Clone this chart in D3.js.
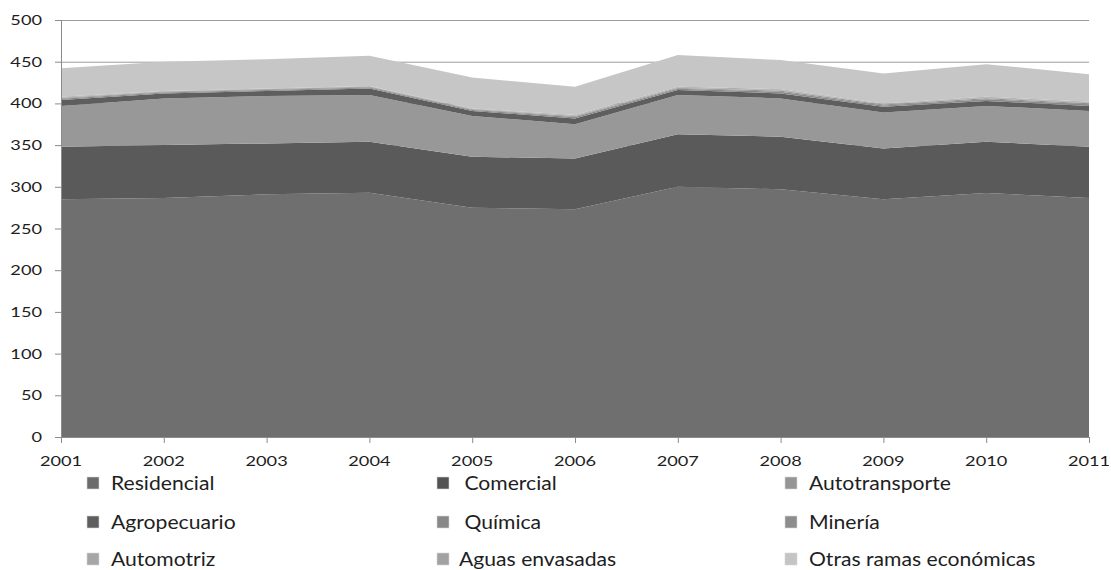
<!DOCTYPE html>
<html>
<head>
<meta charset="utf-8">
<script src="https://cdn.jsdelivr.net/npm/d3@7"></script>
<style>
  body { margin: 0; background: #fff; }
  svg { display: block; }
  text { font-family: Lato, "Open Sans", sans-serif; fill: #1e1e1e; white-space: pre; }
</style>
</head>
<body>
<svg id="chart" width="1111" height="570"></svg>
<script>
// Years on the horizontal axis
const years = [2001, 2002, 2003, 2004, 2005, 2006, 2007, 2008, 2009, 2010, 2011];

// Consumption by sector, one array per series
const residencial    = [285, 286.5, 291, 293, 275, 273, 300, 297, 285, 292.5, 286.5];
const comercial      = [63, 63.5, 61, 61, 61, 61, 63, 63, 61, 61.5, 61.5];
const autotransporte = [49, 56, 57, 56, 49, 41, 47, 46, 43, 43, 43];
const agropecuario   = [7, 6, 6, 8, 6, 7, 6, 6, 7, 6, 6];
const quimica        = [1.6, 1.2, 1.2, 1.2, 1.2, 1.6, 1.6, 2.0, 1.6, 2.0, 2.0];
const mineria        = [1.0, 0.8, 0.8, 0.8, 0.8, 1.0, 1.0, 1.2, 1.0, 1.2, 1.2];
const automotriz     = [0.6, 0.5, 0.5, 0.5, 0.5, 0.6, 0.6, 0.8, 0.6, 0.8, 0.8];
const aguas          = [0.8, 0.5, 0.5, 0.5, 0.5, 0.8, 0.8, 1.0, 0.8, 1.0, 1.0];
const otras          = [34, 35, 35, 36, 37, 34, 38, 35, 36, 39, 33];

const seriesNames = ["Residencial", "Comercial", "Autotransporte", "Agropecuario",
  "Química", "Minería", "Automotriz", "Aguas envasadas", "Otras ramas económicas"];
const legendLabels = ["Residencial", " Comercial", "Autotransporte", "Agropecuario",
  " Química", "Minería", "Automotriz", "Aguas envasadas", "Otras ramas económicas"];
const seriesValues = [residencial, comercial, autotransporte, agropecuario,
  quimica, mineria, automotriz, aguas, otras];

const yTicks = [0, 50, 100, 150, 200, 250, 300, 350, 400, 450, 500];

const areaColors   = ["#6f6f6f", "#5a5a5a", "#989898", "#5e5e5e", "#8a8a8a",
  "#8f8f8f", "#a9a9a9", "#a4a4a4", "#c6c6c6"];
const swatchColors = ["#6b6b6b", "#525252", "#959595", "#5e5e5e", "#888888",
  "#8d8d8d", "#a6a6a6", "#a2a2a2", "#c4c4c4"];

// Build rows for d3.stack
const rows = years.map((yr, i) => {
  const r = { year: yr };
  seriesNames.forEach((n, k) => { r[n] = seriesValues[k][i]; });
  return r;
});

const svg = d3.select("#chart");
const plot = { left: 61, right: 1089, top: 20, bottom: 437 };

const x = d3.scaleLinear().domain([2001, 2011]).range([plot.left, plot.right]);
const y = d3.scaleLinear().domain([0, 500]).range([plot.bottom, plot.top]);

// Horizontal text stretch used for all labels
const SX_AXIS = 1.3, SX_LEG = 1.12;
function placeText(sel, px, py, k) {
  sel.attr("transform", `translate(${px},${py}) scale(${k},1)`);
}

// Gridlines
svg.append("g").selectAll("line")
  .data(yTicks.filter(t => t > 0))
  .join("line")
  .attr("x1", plot.left).attr("x2", plot.right)
  .attr("y1", d => y(d) + 0.5).attr("y2", d => y(d) + 0.5)
  .attr("stroke", "#9c9c9c").attr("stroke-width", 1);

// Stacked areas
const stack = d3.stack().keys(seriesNames);
const layers = stack(rows);
const area = d3.area()
  .x(d => x(d.data.year))
  .y0(d => y(d[0]))
  .y1(d => y(d[1]));

svg.append("g").selectAll("path")
  .data(layers)
  .join("path")
  .attr("d", area)
  .attr("fill", (d, i) => areaColors[i]);

// Y axis
const yAxis = svg.append("g");
yAxis.append("line")
  .attr("x1", plot.left + 0.5).attr("x2", plot.left + 0.5)
  .attr("y1", plot.top).attr("y2", plot.bottom)
  .attr("stroke", "#8c8c8c");
yAxis.selectAll("line.tick")
  .data(yTicks)
  .join("line").attr("class", "tick")
  .attr("x1", plot.left - 6).attr("x2", plot.left)
  .attr("y1", d => y(d) + 0.5).attr("y2", d => y(d) + 0.5)
  .attr("stroke", "#8c8c8c");
yAxis.selectAll("text")
  .data(yTicks)
  .join("text")
  .attr("text-anchor", "end")
  .style("font-size", "14px")
  .text(d => d)
  .each(function (d) { placeText(d3.select(this), 42, y(d) + 5, SX_AXIS); });

// X axis
const xAxis = svg.append("g");
xAxis.append("line")
  .attr("x1", plot.left).attr("x2", plot.right)
  .attr("y1", plot.bottom + 0.5).attr("y2", plot.bottom + 0.5)
  .attr("stroke", "#8c8c8c");
xAxis.selectAll("line.tick")
  .data(years)
  .join("line").attr("class", "tick")
  .attr("x1", d => x(d) + 0.5).attr("x2", d => x(d) + 0.5)
  .attr("y1", plot.bottom).attr("y2", plot.bottom + 6)
  .attr("stroke", "#8c8c8c");
xAxis.selectAll("text")
  .data(years)
  .join("text")
  .attr("text-anchor", "middle")
  .style("font-size", "14px")
  .text(d => d)
  .each(function (d) { placeText(d3.select(this), x(d), 466, SX_AXIS); });

// Legend: three columns, three rows
const colX = [87, 437, 785];
const rowY = [477, 516, 553];
const legend = svg.append("g").selectAll("g")
  .data(legendLabels)
  .join("g")
  .attr("transform", (d, i) => `translate(${colX[i % 3]},${rowY[Math.floor(i / 3)]})`);
legend.append("rect")
  .attr("width", 12).attr("height", 12)
  .attr("fill", (d, i) => swatchColors[i])
  .attr("stroke", "#d8d8d8").attr("stroke-width", 0.6);
legend.append("text")
  .style("font-size", "18.5px")
  .text(d => d)
  .each(function (d, i) {
    const dx = (i % 3 === 1) ? 22 : 24;
    placeText(d3.select(this), dx, 12.5, SX_LEG * 1.02);
  });
</script>
</body>
</html>
